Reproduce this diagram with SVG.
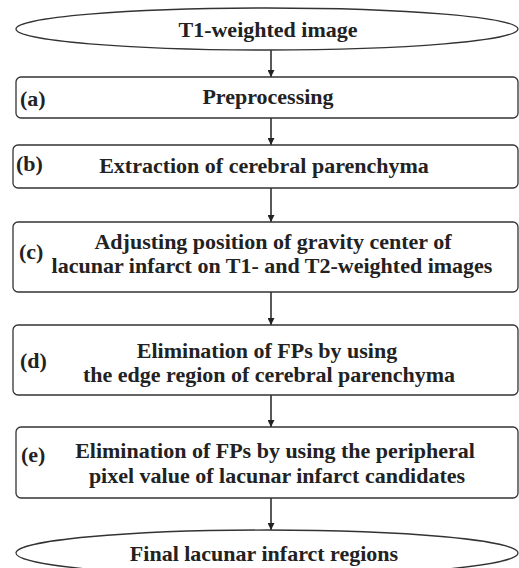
<svg xmlns="http://www.w3.org/2000/svg" width="519" height="568" viewBox="0 0 519 568">
<style>
.shape{fill:#fff;stroke:#333;stroke-width:1.3}
text{font-family:'Liberation Serif','Times New Roman',Times,serif;font-weight:bold;font-size:22px;fill:#222}
.t{text-anchor:middle}
.conn{stroke:#222;stroke-width:1.5;fill:none;marker-end:url(#ah)}
</style>
<defs>
<marker id="ah" viewBox="0 0 10 10" refX="10" refY="5" markerWidth="7" markerHeight="7" markerUnits="userSpaceOnUse" orient="auto">
<path d="M0,0 L10,5 L0,10 z" fill="#222"/>
</marker>
</defs>
<rect width="519" height="568" fill="#fff"/>
<g id="connectors">
<line class="conn" x1="271" y1="50" x2="271" y2="77"/>
<line class="conn" x1="271" y1="118" x2="271" y2="145"/>
<line class="conn" x1="271" y1="188" x2="271" y2="222"/>
<line class="conn" x1="271" y1="292" x2="271" y2="325"/>
<line class="conn" x1="271" y1="395" x2="271" y2="427"/>
<line class="conn" x1="271" y1="498" x2="271" y2="530"/>
</g>
<g id="start">
<ellipse class="shape" cx="267" cy="29" rx="251" ry="21"/>
<text class="t" x="268" y="37">T1-weighted image</text>
</g>
<g id="a">
<rect class="shape" x="16" y="77" width="502" height="41" rx="5"/>
<text x="20" y="106">(a)</text>
<text class="t" x="268" y="104">Preprocessing</text>
</g>
<g id="b">
<rect class="shape" x="13" y="145" width="505" height="43" rx="5"/>
<text x="16" y="171">(b)</text>
<text class="t" x="264" y="173">Extraction of cerebral parenchyma</text>
</g>
<g id="c">
<rect class="shape" x="13" y="222" width="505" height="70" rx="5"/>
<text x="19" y="259">(c)</text>
<text class="t" x="273" y="249">Adjusting position of gravity center of</text>
<text class="t" x="272" y="273">lacunar infarct on T1- and T2-weighted images</text>
</g>
<g id="d">
<rect class="shape" x="13" y="325" width="505" height="70" rx="5"/>
<text x="20" y="368">(d)</text>
<text class="t" x="267" y="358">Elimination of FPs by using</text>
<text class="t" x="269" y="382">the edge region of cerebral parenchyma</text>
</g>
<g id="e">
<rect class="shape" x="16" y="427" width="502" height="71" rx="5"/>
<text x="21" y="462">(e)</text>
<text class="t" x="275" y="458">Elimination of FPs by using the peripheral</text>
<text class="t" x="277" y="483">pixel value of lacunar infarct candidates</text>
</g>
<g id="end">
<ellipse class="shape" cx="267" cy="553" rx="251" ry="23"/>
<text class="t" x="264" y="561">Final lacunar infarct regions</text>
</g>
</svg>
